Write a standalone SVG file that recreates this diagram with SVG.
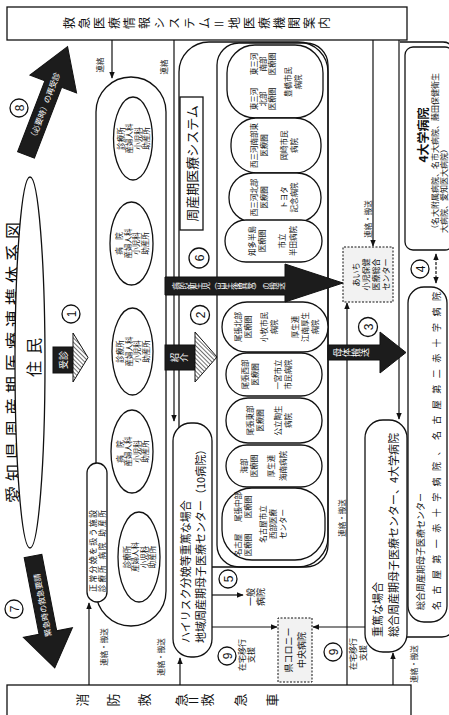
<svg xmlns="http://www.w3.org/2000/svg" width="449" height="715" viewBox="0 0 449 715">
<style>
text{font-family:"Noto Sans CJK JP","Noto Sans",sans-serif;fill:#111}
.ln{fill:none;stroke:#111;stroke-width:1.2}
.bx{fill:#fff;stroke:#111;stroke-width:1.3}
.grp{fill:none;stroke:#111;stroke-width:1.3}
.dash{fill:#f2f2f2;stroke:#111;stroke-width:1;stroke-dasharray:2 1.5}
.dk{fill:#1c1c1c;stroke:#111;stroke-width:1}
.ht{fill:url(#hatch);stroke:#111;stroke-width:1}
.w{fill:#fff}
.c{text-anchor:middle}
.s7{font-size:7.5px}
.s8{font-size:8px}
.s9{font-size:9px}
.s11{font-size:11px}
.v{writing-mode:vertical-rl}
.cir{fill:#fff;stroke:#111;stroke-width:1.3}
.num{font-size:12px;text-anchor:middle;font-family:"Liberation Sans",sans-serif}
</style>
<defs>
<marker id="ah" viewBox="0 0 10 10" refX="9" refY="5" markerWidth="6" markerHeight="6" orient="auto-start-reverse"><path d="M0,1 L10,5 L0,9 z" fill="#111"/></marker>
<pattern id="hatch" patternUnits="userSpaceOnUse" width="3" height="3" patternTransform="rotate(45)"><rect width="3" height="3" fill="#fff"/><line x1="0" y1="0" x2="0" y2="3" stroke="#222" stroke-width="1.3"/></pattern>
</defs>
<rect width="449" height="715" fill="#fff"/>
<g transform="translate(0,715) rotate(-90)">

<g id="title"><text x="212" y="20" style="font-size:17px;letter-spacing:5px">愛知県周産期医療連携体系図</text></g>

<!-- group outlines -->
<g id="perinatal-system">
<rect class="grp" x="148" y="179" width="525" height="149" rx="30"/>
<rect class="grp" x="148" y="217" width="524" height="111" rx="22"/>
<rect class="bx" x="485" y="180" width="133" height="23"/>
<text class="c" x="551.5" y="197" style="font-size:13px">周産期医療システム</text>
</g>

<g id="right-outline"><path class="grp" d="M673,400 V443 Q673,452 664,452 H88 Q78,452 78,442 V407"/></g>

<g id="clinic-group"><rect class="grp" x="89" y="96" width="549" height="70" rx="35"/></g>

<!-- connectors -->
<g id="connectors">
<line class="ln" x1="675" y1="112" x2="637" y2="112" marker-end="url(#ah)"/>
<line class="ln" x1="675" y1="174" x2="294" y2="174" marker-end="url(#ah)"/>
<line class="ln" x1="675" y1="373" x2="469" y2="373" marker-end="url(#ah)"/>
<line class="ln" x1="675" y1="399" x2="296" y2="399" marker-end="url(#ah)"/>
<line class="ln" x1="30" y1="89" x2="112" y2="89" marker-end="url(#ah)"/>
<line class="ln" x1="30" y1="180" x2="57" y2="180" marker-end="url(#ah)"/>
<line class="ln" x1="30" y1="347" x2="412" y2="347" marker-end="url(#ah)"/>
<line class="ln" x1="30" y1="393" x2="62" y2="393" marker-end="url(#ah)"/>
<line class="ln" x1="120" y1="212" x2="120" y2="243" marker-end="url(#ah)"/>
<line class="ln" x1="88" y1="212" x2="88" y2="277" marker-end="url(#ah)"/>
<line class="ln" x1="88" y1="365" x2="88" y2="313" marker-end="url(#ah)"/>
<line class="ln" x1="432" y1="436" x2="461" y2="436" marker-start="url(#ah)" marker-end="url(#ah)" stroke-dasharray="3 1.5"/>
<text class="c s7" x="650" y="103">連絡</text>
<text class="c s7" x="648" y="167">連絡</text>
<text class="c s7" x="496" y="371">連絡・搬送</text>
<text class="c s7" x="68" y="107">連絡・搬送</text>
<text class="c s7" x="58" y="164">連絡・搬送</text>
<text class="c s7" x="197" y="345">連絡・搬送</text>
<text class="c s7" x="51" y="417">連絡・搬送</text>
</g>

<g id="n-kyukyu-info">
<rect class="bx" x="675" y="7" width="33" height="400"/>
<text class="v" x="692" y="63" style="font-size:12px;letter-spacing:3px">救急医療情報システム＝地医療機関案内</text>
</g>

<g id="n-shobo">
<rect class="bx" x="-3" y="7" width="33" height="404"/>
<g style="font-size:13px" class="c">
<text x="15" y="87">消</text><text x="15" y="118">防</text><text x="15" y="149">救</text><text x="15" y="186">急</text>
<text x="15" y="198" transform="rotate(90 15 193.5)">＝</text>
<text x="15" y="212">救</text><text x="15" y="245">急</text><text x="15" y="277">車</text>
</g>
</g>

<g id="n-jumin">
<ellipse class="bx" cx="352.5" cy="30" rx="185.5" ry="15"/>
<text class="c" x="346" y="40" style="font-size:16px">住</text>
<text class="c" x="369" y="40" style="font-size:16px">民</text>
</g>

<g id="n-clinics" class="s7">
<ellipse class="bx" cx="576.5" cy="133" rx="41.5" ry="19.5"/>
<text class="c" x="576.5" y="123.5">診療所</text><text class="c" x="576.5" y="132">産婦人科</text><text class="c" x="576.5" y="140.5">小児科</text><text class="c" x="576.5" y="149">助産所</text>
<ellipse class="bx" cx="471.5" cy="131.5" rx="41.5" ry="21.5"/>
<text class="c" x="471.5" y="122">病　院</text><text class="c" x="471.5" y="130.5">産婦人科</text><text class="c" x="471.5" y="139">小児科</text><text class="c" x="471.5" y="147.5">助産所</text>
<ellipse class="bx" cx="363.5" cy="132.5" rx="43.5" ry="20.5"/>
<text class="c" x="363.5" y="123">診療所</text><text class="c" x="363.5" y="131.5">産婦人科</text><text class="c" x="363.5" y="140">小児科</text><text class="c" x="363.5" y="148.5">助産所</text>
<ellipse class="bx" cx="263.5" cy="132" rx="41.5" ry="21"/>
<text class="c" x="263.5" y="122.5">病　院</text><text class="c" x="263.5" y="131">産婦人科</text><text class="c" x="263.5" y="139.5">小児科</text><text class="c" x="263.5" y="148">助産所</text>
<ellipse class="bx" cx="158" cy="139" rx="45" ry="21"/>
<text class="c" x="158" y="129.5">診療所</text><text class="c" x="158" y="138">産婦人科</text><text class="c" x="158" y="146.5">小児科</text><text class="c" x="158" y="155">助産所</text>
</g>

<g id="n-normal">
<rect class="bx" x="113" y="87" width="139" height="20" rx="10"/>
<text class="s8" x="123" y="96" textLength="82" lengthAdjust="spacing">正常分娩を扱う施設</text>
<text class="s7" x="123" y="104.5" textLength="82" lengthAdjust="spacing">診療所 病院 助産所</text>
</g>

<g id="n-hospitals" class="s7">
<rect class="bx" x="597" y="227" width="73" height="96" rx="28"/>
<text class="c" x="616" y="257">東三河</text><text class="c" x="616" y="266">北部</text><text class="c" x="616" y="275">医療圏</text>
<text class="c" x="651" y="257">東三河</text><text class="c" x="651" y="266">南部</text><text class="c" x="651" y="275">医療圏</text>
<text class="c" x="633" y="291">豊橋市民</text><text class="c" x="633" y="301">病院</text>
<rect class="bx" x="542" y="231" width="55" height="90" rx="26"/>
<text class="c" x="569.5" y="257">西三河南部東</text><text class="c" x="569.5" y="267">医療圏</text><text class="c" x="569.5" y="287">岡崎市民</text><text class="c" x="569.5" y="297">病院</text>
<rect class="bx" x="493" y="229" width="49" height="92" rx="24"/>
<text class="c" x="517.5" y="257">西三河北部</text><text class="c" x="517.5" y="267">医療圏</text><text class="c" x="517.5" y="287">トヨタ</text><text class="c" x="517.5" y="297">記念病院</text>
<rect class="bx" x="453" y="225" width="42" height="97" rx="21"/>
<text class="c" x="474" y="255">知多半島</text><text class="c" x="474" y="265">医療圏</text><text class="c" x="474" y="285">市立</text><text class="c" x="474" y="296">半田病院</text>
<rect class="bx" x="363" y="222" width="50" height="106" rx="25"/>
<text class="c" x="388" y="241">尾張北部</text><text class="c" x="388" y="251">医療圏</text><text class="c" x="388" y="267">小牧市民</text><text class="c" x="388" y="277">病院</text>
<text class="c" x="388" y="298">厚生連</text><text class="c" x="388" y="308">江南厚生</text><text class="c" x="388" y="318">病院</text>
<rect class="bx" x="319" y="226" width="43" height="96" rx="21"/>
<text class="c" x="340.5" y="248">尾張西部</text><text class="c" x="340.5" y="258">医療圏</text><text class="c" x="340.5" y="281">一宮市立</text><text class="c" x="340.5" y="291">市民病院</text>
<rect class="bx" x="272" y="226" width="45" height="96" rx="22"/>
<text class="c" x="294.5" y="253">尾張東部</text><text class="c" x="294.5" y="263">医療圏</text><text class="c" x="294.5" y="281">公立陶生</text><text class="c" x="294.5" y="291">病院</text>
<rect class="bx" x="228" y="226" width="42" height="96" rx="21"/>
<text class="c" x="249" y="247">海部</text><text class="c" x="249" y="257">医療圏</text><text class="c" x="249" y="274">厚生連</text><text class="c" x="249" y="286">海南病院</text>
<rect class="bx" x="155" y="222" width="72" height="103" rx="30"/>
<text class="c" x="170" y="241">名古屋</text><text class="c" x="170" y="251">医療圏</text>
<text class="c" x="208" y="241">尾張中部</text><text class="c" x="208" y="251">医療圏</text>
<text class="c" x="191" y="266">名古屋市立</text><text class="c" x="191" y="276">西部医療</text><text class="c" x="191" y="286">センター</text>
</g>

<g id="n-highrisk">
<rect class="bx" x="58" y="173" width="234" height="39" rx="18"/>
<text class="s11" x="72" y="190">ハイリスク分娩等重篤な場合</text>
<text class="s11" x="72" y="205">地域周産期母子医療センター（10病院）</text>
</g>

<g id="n-ippan">
<text class="c s9" x="118" y="254">一般</text>
<text class="c s9" x="118" y="264">病院</text>
</g>

<g id="n-colony">
<rect class="dash" x="33" y="278" width="64" height="34"/>
<text class="c s9" x="65" y="292">県コロニー</text>
<text class="c s9" x="65" y="305">中央病院</text>
</g>

<g id="n-zaitaku" class="s8">
<text class="c" x="60" y="245">在宅移行</text><text class="c" x="60" y="254">支援</text>
<text class="c" x="61" y="356">在宅移行</text><text class="c" x="62" y="366">支援</text>
</g>

<g id="n-aichi">
<rect class="dash" x="413" y="343" width="55" height="50"/>
<text class="c s8" x="440.5" y="359">あいち</text>
<text class="c s8" x="440.5" y="369">小児保健</text>
<text class="c s8" x="440.5" y="379">医療総合</text>
<text class="c s8" x="440.5" y="389">センター</text>
</g>

<g id="n-jutoku">
<rect class="bx" x="63" y="365" width="232" height="42" rx="18"/>
<text class="s11" x="78" y="382">重篤な場合</text>
<text class="s11" x="78" y="398">総合周産期母子医療センター、4大学病院</text>
</g>

<g id="n-4univ">
<rect class="bx" x="465" y="405" width="203" height="48" rx="8"/>
<text class="c" x="580" y="428" style="font-size:12px;font-weight:bold">4大学病院</text>
<text class="s8" x="482" y="438">（名大附属病院、名市大病院、藤田保健衛生</text>
<text class="s8" x="482" y="447">大病院、愛知医大病院）</text>
</g>

<g id="n-sogo">
<rect class="bx" x="93" y="408" width="335" height="39" rx="16"/>
<text class="s9" x="105" y="424">総合周産期母子医療センター</text>
<text class="s9" x="105" y="440" textLength="318" lengthAdjust="spacing">名古屋第一赤十字病院、名古屋第二赤十字病院</text>
</g>

<!-- big arrows -->
<g id="arrow-1">
<rect class="dk" x="342" y="53" width="26" height="21"/>
<path class="ht" d="M333,73 H382 L357.5,88 Z"/>
<text class="c s9 w" x="355" y="67">受診</text>
</g>
<g id="arrow-2">
<rect class="dk" x="345" y="165" width="25" height="30"/>
<path class="ht" d="M333,195 H383 L358,217 Z"/>
<text class="v s9 w" x="357.5" y="170">紹介</text>
</g>
<g id="arrow-6">
<path class="dk" d="M420,165 H438 V285 H451 L432,343 L413,285 H420 Z"/>
<text class="v s7 w" x="429" y="172">病的新生児（出生後異常）の搬送</text>
</g>
<g id="arrow-3">
<path class="dk" d="M355,328 H370 V380 H383 L362.5,406 L342,380 H355 Z"/>
<text class="v s9 w" x="362.5" y="333">母体搬送</text>
</g>
<g id="arrow-8">
<polygon class="dk" transform="translate(560,26) rotate(21)" points="0,-9 76,-9 76,-25 116,0 76,25 76,9 0,9"/>
<text class="c s8 w" transform="translate(560,26) rotate(21)" x="52" y="3">（必要時）の再受診</text>
</g>
<g id="arrow-7">
<polygon class="dk" transform="translate(159,33) rotate(169)" points="0,-9 78,-9 78,-25 114,0 78,25 78,9 0,9"/>
<text class="c s8 w" transform="translate(159,33) rotate(-11)" x="-50" y="3">緊急時の救急要請</text>
</g>

<!-- numbered circles -->
<g id="nums">
<circle class="cir" cx="401" cy="71" r="9"/><text class="num" x="401" y="75.5">1</text>
<circle class="cir" cx="400" cy="200" r="9.5"/><text class="num" x="400" y="204.5">2</text>
<circle class="cir" cx="388" cy="368" r="9.5"/><text class="num" x="388" y="372.5">3</text>
<circle class="cir" cx="446" cy="420" r="9"/><text class="num" x="446" y="424.5">4</text>
<circle class="cir" cx="136" cy="228" r="9"/><text class="num" x="136" y="232.5">5</text>
<circle class="cir" cx="457" cy="199" r="10"/><text class="num" x="457" y="203.5">6</text>
<circle class="cir" cx="106" cy="14" r="9"/><text class="num" x="106" y="18.5">7</text>
<circle class="cir" cx="607" cy="19" r="9"/><text class="num" x="607" y="23.5">8</text>
<circle class="cir" cx="59" cy="227" r="9"/><text class="num" x="59" y="231.5">9</text>
<circle class="cir" cx="63" cy="333" r="9"/><text class="num" x="63" y="337.5">9</text>
</g>
</g>
</svg>
